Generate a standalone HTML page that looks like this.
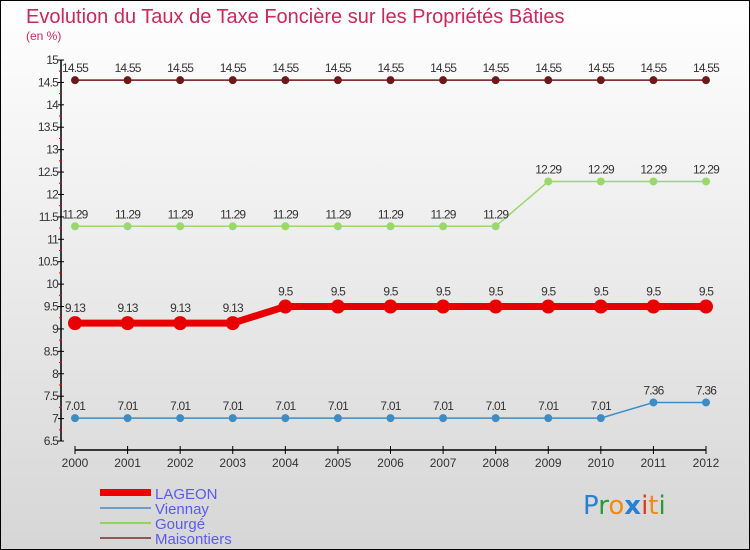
<!DOCTYPE html>
<html><head><meta charset="utf-8"><style>
body{margin:0}
#c{width:750px;height:550px;position:relative;box-sizing:border-box;border:1px solid #000;background:linear-gradient(#ffffff,#d6d6d6);font-family:"Liberation Sans",sans-serif;overflow:hidden}
</style></head><body>
<div id="c">
<svg id="s" width="750" height="550" style="position:absolute;left:-1px;top:-1px">
<text x="26" y="23" font-size="20" fill="#c8285a">Evolution du Taux de Taxe Foncière sur les Propriétés Bâties</text>
<text x="26" y="40" font-size="12" fill="#c8285a">(en %)</text>
<g id="axes"></g><g id="series"></g>
<g>
<rect x="100" y="489" width="51" height="7" fill="#e00"/>
<text x="155" y="499" font-size="15" fill="#5a5af0">LAGEON</text>
<rect x="100" y="507" width="51" height="2" fill="#6b9fc8"/>
<text x="155" y="514" font-size="15" fill="#5a5af0">Viennay</text>
<rect x="100" y="522" width="51" height="2" fill="#8fd45f"/>
<text x="155" y="529" font-size="15" fill="#5a5af0">Gourgé</text>
<rect x="100" y="537" width="51" height="2" fill="#8b5a5a"/>
<text x="155" y="544" font-size="15" fill="#5a5af0">Maisontiers</text>
</g>
<g font-size="26" font-family="'DejaVu Sans',sans-serif">
<text x="583" y="514"><tspan fill="#2a7fd0">P</tspan><tspan fill="#2a9a3a">r</tspan><tspan fill="#f08a10">o</tspan><tspan fill="#2a7fd0" font-weight="bold">x</tspan><tspan fill="#e03a10">i</tspan><tspan fill="#f08a10">t</tspan><tspan fill="#2a9a3a">i</tspan></text>
</g>
</svg>
</div>
<script>
const years=[2000,2001,2002,2003,2004,2005,2006,2007,2008,2009,2010,2011,2012];
const yTicks=[6.5,7,7.5,8,8.5,9,9.5,10,10.5,11,11.5,12,12.5,13,13.5,14,14.5,15];
const lageon=[9.13,9.13,9.13,9.13,9.5,9.5,9.5,9.5,9.5,9.5,9.5,9.5,9.5];
const viennay=[7.01,7.01,7.01,7.01,7.01,7.01,7.01,7.01,7.01,7.01,7.01,7.36,7.36];
const gourge=[11.29,11.29,11.29,11.29,11.29,11.29,11.29,11.29,11.29,12.29,12.29,12.29,12.29];
const maisontiers=[14.55,14.55,14.55,14.55,14.55,14.55,14.55,14.55,14.55,14.55,14.55,14.55,14.55];
const NS="http://www.w3.org/2000/svg";
const xs=i=>75+i*(706-75)/(years.length-1);
const ys=v=>441-(v-6.5)*(381/8.5);
function mk(p,t,a){const e=document.createElementNS(NS,t);for(const k in a)e.setAttribute(k,a[k]);p.appendChild(e);return e;}
const ax=document.getElementById('axes');
let e=mk(ax,'line',{x1:61,y1:ys(15),x2:61,y2:ys(6.5),stroke:'#000','stroke-width':1.5});


yTicks.forEach((v,i)=>{
 mk(ax,'line',{x1:58,y1:ys(v),x2:64,y2:ys(v),stroke:'#000'});
 if(i<yTicks.length-1)mk(ax,'line',{x1:59,y1:ys(v+0.25),x2:62,y2:ys(v+0.25),stroke:'#e00'});
 const t=mk(ax,'text',{x:58,y:ys(v)+4,'font-size':12,'text-anchor':'end',fill:'#333','letter-spacing':'-0.8'});
 t.textContent=String(v);
 
 
});
e=mk(ax,'line',{x1:75,y1:450,x2:706,y2:450,stroke:'#000','stroke-width':1.5});


years.forEach((y,i)=>{
 mk(ax,'line',{x1:xs(i),y1:446,x2:xs(i),y2:454,stroke:'#000'});
 const t=mk(ax,'text',{x:xs(i),y:467,'font-size':12,'text-anchor':'middle',fill:'#333'});
 t.textContent=y;
 
 
});
const sg=document.getElementById('series');
function draw(vals,name,color,w,r,lblOff){
 const g=mk(sg,'g',{});
 
 
 mk(g,'polyline',{points:vals.map((v,i)=>xs(i)+','+ys(v)).join(' '),fill:'none',stroke:color,'stroke-width':w});
 vals.forEach((v,i)=>{
  const c=mk(g,'circle',{cx:xs(i),cy:ys(v),r:r,fill:color});
  
  
  const t=mk(g,'text',{x:xs(i),y:ys(v)-lblOff,'font-size':12,'text-anchor':'middle',fill:'#333','letter-spacing':'-0.8'});
  t.textContent=String(v);
  
  
 });
}
draw(maisontiers,'maisontiers','#6b1a1a',1.5,4,8);
draw(gourge,'gourge','#9ad86a',1.5,4,8);
draw(viennay,'viennay','#3d8cc4',1.5,4,8);
draw(lageon,'lageon','#e80000',7,7,11);
</script>
</body></html>
